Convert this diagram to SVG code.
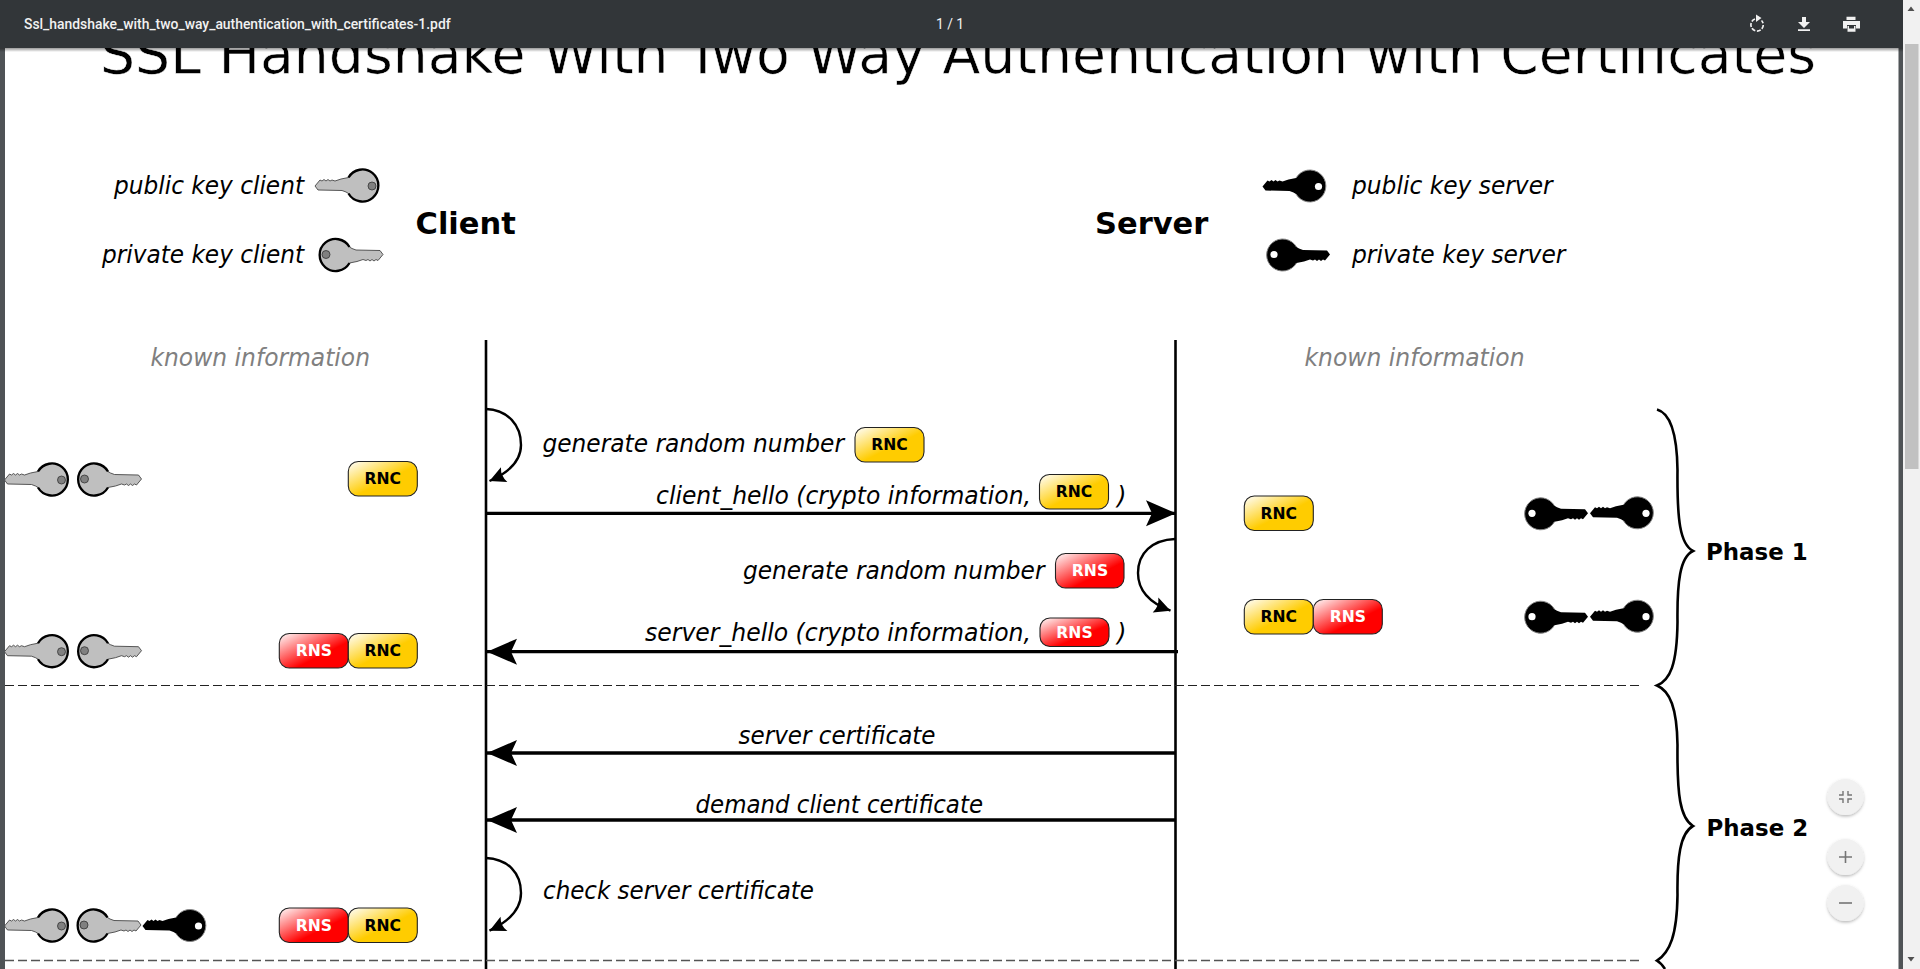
<svg xmlns="http://www.w3.org/2000/svg" xmlns:xlink="http://www.w3.org/1999/xlink" width="1920" height="969" viewBox="0 0 1920 969">
<style>
text{font-family:"DejaVu Sans",Verdana,sans-serif;fill:#000}
.lbl{font-size:24.2px;font-style:italic}
.leg{font-size:24.2px;font-style:italic}
.known{font-size:24.2px;font-style:italic;fill:#808080}
.role{font-size:30.5px;font-weight:bold}
.phase{font-size:22.9px;font-weight:bold}
.title{font-size:56px;stroke:#fff;stroke-width:.5}
.pilltxt{font-size:15.6px;font-weight:bold;text-anchor:middle}
.ui{font-family:Roboto,"Liberation Sans",sans-serif;font-size:13.9px;font-weight:500;fill:#f1f1f1}
.dash{stroke:#222;stroke-width:1.2;stroke-dasharray:9 4;fill:none}
.life{stroke:#000;stroke-width:2.6;fill:none}
.msg{stroke:#000;stroke-width:3.3;fill:none}
.loop{stroke:#000;stroke-width:2.4;fill:none}
.brace{stroke:#000;stroke-width:2.6;fill:none}
.pill{stroke:#222;stroke-width:1.1}
.fab{fill:#f1f1f1;filter:url(#sh)}
.ficon{stroke:#757575;fill:none}
</style>
<defs>
<linearGradient id="gy" x1="0" y1="0" x2="1" y2="1"><stop offset="0" stop-color="#fff"/><stop offset=".55" stop-color="#fc0"/><stop offset="1" stop-color="#fc0"/></linearGradient>
<linearGradient id="gr" x1="0" y1="0" x2="1" y2="1"><stop offset="0" stop-color="#fff"/><stop offset=".62" stop-color="#f00"/><stop offset="1" stop-color="#f00"/></linearGradient>
<linearGradient id="barsh" x1="0" y1="0" x2="0" y2="1"><stop offset="0" stop-color="#000" stop-opacity=".4"/><stop offset="1" stop-color="#000" stop-opacity="0"/></linearGradient>
<filter id="sh" x="-30%" y="-30%" width="160%" height="160%"><feDropShadow dx="0" dy="1.5" stdDeviation="1.5" flood-color="#000" flood-opacity=".28"/></filter>
<marker id="big" markerUnits="userSpaceOnUse" markerWidth="34" markerHeight="28" refX="30" refY="13" orient="auto-start-reverse" overflow="visible"><path d="M0,0 L30,13 L0,26 L6,13Z" fill="#000"/></marker>
<marker id="small" markerUnits="userSpaceOnUse" markerWidth="20" markerHeight="18" refX="16" refY="8" orient="auto" overflow="visible"><path d="M0,0 L16,8 L0,16 Q4,8 0,0Z" fill="#000"/></marker>
<path id="kshape" d="M14.5,-7.5 L17,-6 L21,-4.5 L45,-4 L48,0 L43,6 L41,5 L39,6.5 L37,5 L35,6.5 L33,5 L31,6 L28,5 L22,7 L14.5,8.5 A16,16 0 1 1 14.5,-7.5Z"/>
<g id="klight">
<use xlink:href="#kshape" fill="#bfbfbf" stroke="#333" stroke-width=".8"/>
<path d="M14.5,-7.5 A16,16 0 1 0 14.5,8.5" fill="none" stroke="#000" stroke-width="2.3"/>
<circle cx="-9" cy="0" r="4" fill="#808080" stroke="#333" stroke-width=".8"/>
</g>
<g id="kdark">
<use xlink:href="#kshape" fill="#000"/>
<path d="M14.5,-7.5 A16,16 0 1 0 14.5,8.5" fill="none" stroke="#888" stroke-width="1"/>
<circle cx="-8" cy="0" r="3.6" fill="#fff"/>
</g>
</defs>
<rect width="1920" height="969" fill="#fff"/>
<g id="title"><text class="title" x="100" y="72.5" textLength="1716" lengthAdjust="spacingAndGlyphs">SSL Handshake With Two Way Authentication with Certificates</text></g>
<g id="legend-client">
<text class="leg" x="114" y="193.5" textLength="190" lengthAdjust="spacingAndGlyphs">public key client</text>
<use xlink:href="#klight" transform="translate(363,186) rotate(180)"/>
<text class="leg" x="102" y="263" textLength="202" lengthAdjust="spacingAndGlyphs">private key client</text>
<use xlink:href="#klight" x="335" y="254.5"/>
</g>
<g id="legend-server">
<use xlink:href="#kdark" transform="translate(1310.5,186.5) rotate(180)"/>
<text class="leg" x="1352" y="193.5" textLength="200.6" lengthAdjust="spacingAndGlyphs">public key server</text>
<use xlink:href="#kdark" x="1282" y="254.5"/>
<text class="leg" x="1352" y="263" textLength="213.5" lengthAdjust="spacingAndGlyphs">private key server</text>
</g>
<g id="client-head"><text class="role" x="415.5" y="233.5">Client</text></g>
<g id="server-head"><text class="role" x="1095" y="233.5">Server</text></g>
<g id="known-client"><text class="known" x="150.5" y="366" textLength="219.5" lengthAdjust="spacingAndGlyphs">known information</text></g>
<g id="known-server"><text class="known" x="1304.5" y="366" textLength="220" lengthAdjust="spacingAndGlyphs">known information</text></g>
<g id="connectors">
<line class="life" x1="486" y1="340" x2="486" y2="969"/>
<line class="life" x1="1175.5" y1="340" x2="1175.5" y2="969"/>
<line class="dash" x1="5" y1="685.5" x2="1639" y2="685.5"/>
<line class="dash" style="stroke:#555;stroke-width:1.6" x1="5" y1="960.5" x2="1639" y2="960.5"/>
<path class="loop" marker-end="url(#small)" d="M486,409 C508,410 521,425 521,445 C521,460 510,472 489.5,481"/>
<line class="msg" x1="486" y1="513.3" x2="1176" y2="513.3" marker-end="url(#big)"/>
<path class="loop" marker-end="url(#small)" d="M1175,539 C1152,540 1138,553 1138,573 C1138,590 1150,603 1170.5,610.7"/>
<line class="msg" x1="1178" y1="651.7" x2="487" y2="651.7" marker-end="url(#big)"/>
<line class="msg" x1="1175" y1="753" x2="487" y2="753" marker-end="url(#big)"/>
<line class="msg" x1="1175" y1="820" x2="487" y2="820" marker-end="url(#big)"/>
<path class="loop" marker-end="url(#small)" d="M486,858 C508,859 521,873 521,893 C521,908 510,921 489.5,930.7"/>
<path class="brace" d="M1657,409.5 C1670,413 1677,432 1677.5,470 C1677,520 1680,544 1693,551 C1680,557 1677,582 1677.5,622 C1677,665 1670,680 1657,685.5 C1670,691 1677,708 1677.5,745 C1677,795 1680,818 1693,826 C1680,833 1677,858 1677.5,895 C1677,935 1670,952 1657,960.7 C1661,963 1663,966 1665,969"/>
</g>
<g id="msg-generate-c"><text class="lbl" x="542.5" y="451.7" textLength="301.5" lengthAdjust="spacingAndGlyphs">generate random number</text>
<rect class="pill" x="855" y="427.5" width="69" height="34.5" rx="10" fill="url(#gy)"/><text class="pilltxt" x="889.5" y="449.7">RNC</text></g>
<g id="msg-client-hello"><text class="lbl" x="656" y="503.7" textLength="375" lengthAdjust="spacingAndGlyphs">client_hello (crypto information,</text>
<rect class="pill" x="1039.5" y="474.5" width="69" height="34.5" rx="10" fill="url(#gy)"/><text class="pilltxt" x="1074" y="496.7">RNC</text>
<text class="lbl" x="1117" y="503.7">)</text></g>
<g id="msg-generate-s"><text class="lbl" x="743" y="579" textLength="301.5" lengthAdjust="spacingAndGlyphs">generate random number</text>
<rect class="pill" x="1055.5" y="553.5" width="68.5" height="34.5" rx="10" fill="url(#gr)"/><text class="pilltxt" x="1090" y="575.7" style="fill:#fff">RNS</text></g>
<g id="msg-server-hello"><text class="lbl" x="645" y="641" textLength="386" lengthAdjust="spacingAndGlyphs">server_hello (crypto information,</text>
<rect class="pill" x="1040" y="618" width="69" height="28.5" rx="10" fill="url(#gr)"/><text class="pilltxt" x="1074.5" y="637.5" style="fill:#fff">RNS</text>
<text class="lbl" x="1117" y="641">)</text></g>
<g id="msg-server-cert"><text class="lbl" x="738.5" y="744" textLength="197" lengthAdjust="spacingAndGlyphs">server certificate</text></g>
<g id="msg-demand-cert"><text class="lbl" x="695.5" y="813" textLength="287.5" lengthAdjust="spacingAndGlyphs">demand client certificate</text></g>
<g id="msg-check-cert"><text class="lbl" x="543" y="899" textLength="271" lengthAdjust="spacingAndGlyphs">check server certificate</text></g>
<g id="client-state-1">
<use xlink:href="#klight" transform="translate(52.5,480) rotate(180)"/><use xlink:href="#klight" x="93.5" y="479"/>
<rect class="pill" x="348.3" y="461.5" width="69" height="34.5" rx="10" fill="url(#gy)"/><text class="pilltxt" x="382.8" y="484">RNC</text>
</g>
<g id="client-state-2">
<use xlink:href="#klight" transform="translate(52.5,651.7) rotate(180)"/><use xlink:href="#klight" x="93.5" y="650.7"/>
<rect class="pill" x="279.3" y="633.5" width="69" height="34.5" rx="10" fill="url(#gr)"/><text class="pilltxt" x="313.8" y="656" style="fill:#fff">RNS</text>
<rect class="pill" x="348.3" y="633.5" width="69" height="34.5" rx="10" fill="url(#gy)"/><text class="pilltxt" x="382.8" y="656">RNC</text>
</g>
<g id="client-state-3">
<use xlink:href="#klight" transform="translate(52.5,926) rotate(180)"/><use xlink:href="#klight" x="93" y="925"/>
<use xlink:href="#kdark" transform="translate(190.5,926) rotate(180)"/>
<rect class="pill" x="279.3" y="908" width="69" height="34.5" rx="10" fill="url(#gr)"/><text class="pilltxt" x="313.8" y="930.5" style="fill:#fff">RNS</text>
<rect class="pill" x="348.3" y="908" width="69" height="34.5" rx="10" fill="url(#gy)"/><text class="pilltxt" x="382.8" y="930.5">RNC</text>
</g>
<g id="server-state-1">
<rect class="pill" x="1244.3" y="496" width="69" height="34.5" rx="10" fill="url(#gy)"/><text class="pilltxt" x="1278.8" y="518.5">RNC</text>
<use xlink:href="#kdark" x="1540" y="513.3"/><use xlink:href="#kdark" transform="translate(1638,513.3) rotate(180)"/>
</g>
<g id="server-state-2">
<rect class="pill" x="1244.3" y="599.5" width="69" height="34.5" rx="10" fill="url(#gy)"/><text class="pilltxt" x="1278.8" y="622">RNC</text>
<rect class="pill" x="1313.3" y="599.5" width="69" height="34.5" rx="10" fill="url(#gr)"/><text class="pilltxt" x="1347.8" y="622" style="fill:#fff">RNS</text>
<use xlink:href="#kdark" x="1540" y="616.7"/><use xlink:href="#kdark" transform="translate(1638,616.7) rotate(180)"/>
</g>
<g id="phase-1"><text class="phase" x="1706" y="560">Phase 1</text></g>
<g id="phase-2"><text class="phase" x="1706.5" y="836">Phase 2</text></g>
<g id="viewer-chrome">
<rect x="0" y="48" width="5" height="921" fill="#4f5356"/>
<rect x="1898.5" y="48" width="4.5" height="921" fill="#4f5356"/>
<rect x="1903" y="0" width="17" height="969" fill="#f1f1f1"/>
<rect x="1905" y="44" width="13.5" height="425" fill="#c1c1c1"/>
<path d="M1911,6.5 L1907.5,11 L1914.5,11Z M1907.5,957 L1914.5,957 L1911,961.5Z" fill="#505050"/>
<rect x="0" y="48" width="1903" height="4" fill="url(#barsh)"/>
<rect x="0" y="0" width="1903" height="48" fill="#323639"/>
<text class="ui" x="24" y="29">Ssl_handshake_with_two_way_authentication_with_certificates-1.pdf</text>
<text class="ui" x="950" y="28.5" text-anchor="middle" style="font-weight:400">1 / 1</text>
<path d="M1755,19 A6.2,6.2 0 1 0 1761.5,20.5" fill="none" stroke="#f1f1f1" stroke-width="1.7" stroke-dasharray="4 1.6"/>
<path d="M1756,14.5 L1756,22 L1761.5,18Z M1798,29.3 H1810 V31 H1798Z M1802,17 H1806 V22 H1810 L1804,28 L1798,22 H1802Z M1846.5,16.7 H1855.5 V20 H1846.5Z M1843,21 H1860 V28.5 H1856 V25 H1847 V28.5 H1843Z M1847.5,26 H1855.5 V31.7 H1847.5Z" fill="#f1f1f1"/>
<rect x="1849" y="25.5" width="5" height="3" fill="#323639"/>
<circle class="fab" cx="1845.5" cy="797" r="18"/>
<circle class="fab" cx="1845.5" cy="857" r="18"/>
<circle class="fab" cx="1845.5" cy="903" r="18"/>
<path class="ficon" stroke-width="1.4" d="M1843,791 V795 H1839 M1848,791 V795 H1852 M1843,803 V799 H1839 M1848,803 V799 H1852"/>
<path class="ficon" stroke-width="1.6" d="M1839,857 H1852 M1845.5,851 V863"/>
<path class="ficon" stroke-width="1.6" d="M1839,903 H1852"/>
</g>
</svg>
